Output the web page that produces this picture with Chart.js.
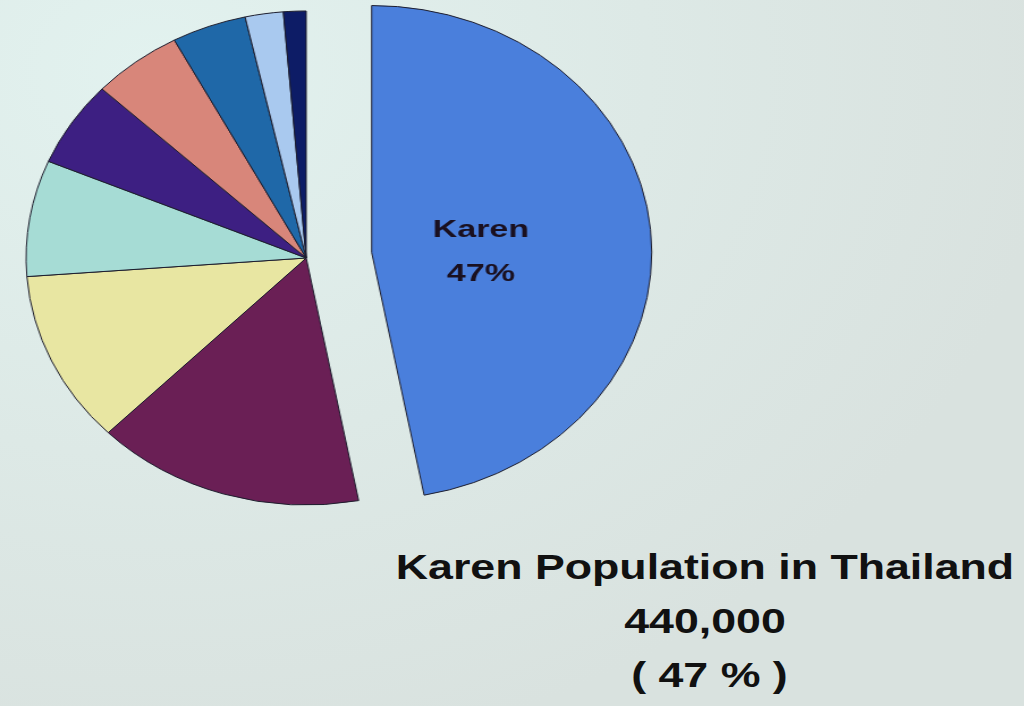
<!DOCTYPE html>
<html>
<head>
<meta charset="utf-8">
<script src="https://cdn.jsdelivr.net/npm/chart.js@4.4.1/dist/chart.umd.min.js"></script>
<style>
  html, body { margin: 0; padding: 0; }
  body {
    width: 1024px; height: 706px; overflow: hidden; position: relative;
    background: radial-gradient(ellipse 900px 700px at 15% 10%, #e2f2ef 0%, #dde9e6 55%, #d9e2df 100%);
    font-family: "Liberation Sans", Arial, sans-serif;
  }
  /* the photo of the slide is stretched sideways, so the pie is too */
  #pie-wrap {
    position: absolute; left: 0; top: 0; width: 640px; height: 516px;
    transform: scaleX(1.134); transform-origin: 0 0;
  }
  #title {
    position: absolute; left: 405px; top: 540px; width: 600px;
    text-align: center; font-weight: bold; font-size: 35px; line-height: 54px; color: #111;
    transform: scaleX(1.277); transform-origin: 300px 0;
  }
</style>
</head>
<body>
<div id="pie-wrap"><canvas id="pie"></canvas></div>
<div id="title">
  <div>Karen Population in Thailand</div>
  <div>440,000</div>
  <div style="padding-left:7px">( 47 % )</div>
</div>
<script>
// share of hill-tribe population, clockwise from 12 o'clock
const groups = ['Karen', 'Hmong', 'Lahu', 'Akha', 'Mien', 'Lisu', 'Lua', 'Khmu', 'Htin'];
const shares = [47, 15.5, 11.3, 7.6, 5.6, 5.2, 4.3, 2.2, 1.3];
const sliceColors = ['#4a7fdc', '#6a1f55', '#e8e6a2', '#a6dcd5', '#3d1f82', '#d8867a', '#1f68a8', '#a9c9ef', '#0d1c66'];
const pullOut = [58, 0, 0, 0, 0, 0, 0, 0, 0];

// v4's own `offset` also grows the radius of big slices, so slide the arc centre instead
const explodeSlices = {
  id: 'explodeSlices',
  afterDatasetsUpdate(chart) {
    chart.getDatasetMeta(0).data.forEach((arc, i) => {
      if (!pullOut[i]) return;
      const mid = (arc.startAngle + arc.endAngle) / 2;
      arc.x += Math.cos(mid) * pullOut[i];
      arc.y += Math.sin(mid) * pullOut[i];
    });
  }
};

// writes "Karen / 47%" inside the pulled-out slice
const sliceLabel = {
  id: 'sliceLabel',
  afterDatasetsDraw(chart) {
    const arc = chart.getDatasetMeta(0).data[0];
    const cx = arc.x + arc.outerRadius * 0.39;
    const cy = arc.y;
    const ctx = chart.ctx;
    ctx.save();
    ctx.translate(cx, cy);
    ctx.scale(1.25, 1);
    ctx.fillStyle = '#1a1020';
    ctx.font = 'bold 24px "Liberation Sans", Arial, sans-serif';
    ctx.textAlign = 'center';
    ctx.textBaseline = 'middle';
    ctx.fillText(groups[0], 0, -22);
    ctx.fillText(Math.round(shares[0]) + '%', 0, 22);
    ctx.restore();
  }
};

new Chart(document.getElementById('pie'), {
  type: 'pie',
  data: {
    labels: groups,
    datasets: [{
      data: shares,
      backgroundColor: sliceColors,
      borderColor: '#1c1c2c',
      borderWidth: 1,
    }],
  },
  options: {
    responsive: true,
    maintainAspectRatio: false,
    animation: false,
    radius: 247,
    layout: { padding: { right: 100 } },
    plugins: { legend: { display: false }, tooltip: { enabled: false } },
  },
  plugins: [explodeSlices, sliceLabel],
});
</script>
</body>
</html>
